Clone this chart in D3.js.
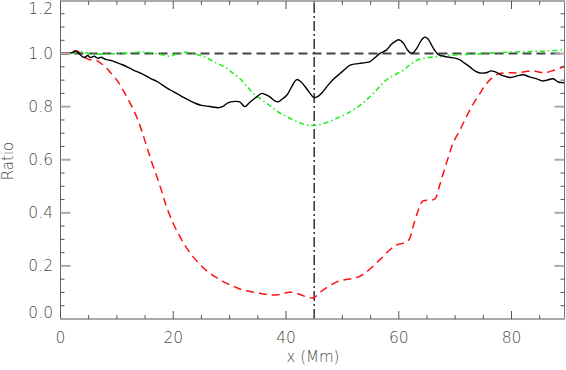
<!DOCTYPE html>
<html><head><meta charset="utf-8">
<script src="https://cdn.jsdelivr.net/npm/d3@7"></script>
<style>
html,body{margin:0;padding:0;background:#fff;}
svg{display:block;}
text{font-family:"DejaVu Sans",sans-serif;fill:#4a4a4a;}
</style></head>
<body>
<svg id="c" width="566" height="370"></svg>
<script>
// ---- data ----
const xTicks = [0, 20, 40, 60, 80];
const yTicks = [0.0, 0.2, 0.4, 0.6, 0.8, 1.0, 1.2];
const xLabel = "x (Mm)";
const yLabel = "Ratio";
const markerX = 45;
const referenceY = 1.0;

const blackX = [0,1,2,2.8,3.3,3.8,4.3,4.8,5.3,6,6.6,7.2,8,8.8,10,11,12,13,14,15,16,17,18,19,20,21,22,23,24,25,26,27,28,29,29.5,30.2,31,31.8,32.7,33.5,34.8,35.7,36.3,37.2,38,38.6,39.3,40.2,41,41.9,42.6,43.4,44.2,44.9,45.6,46.5,47.5,48.5,49.6,50.5,51.3,52.3,53.1,54.1,54.9,55.8,56.6,57.8,58.7,59.5,60,60.8,61.5,62,62.5,63.2,64,64.6,65.2,66,67,68,69,70,70.8,71.6,72.6,73.5,74.4,75.5,76.4,77.2,78.5,79.7,81,82.1,83.2,84.5,85.5,86.3,87.4,88.3,89.4];
const blackY = [1.0,1.0,1.003,1.01,1.0,0.99,0.985,0.993,0.985,0.99,0.982,0.986,0.978,0.975,0.966,0.958,0.948,0.937,0.928,0.918,0.906,0.896,0.883,0.869,0.857,0.845,0.833,0.822,0.812,0.805,0.802,0.799,0.796,0.803,0.812,0.818,0.82,0.818,0.8,0.815,0.837,0.85,0.846,0.836,0.822,0.818,0.828,0.845,0.875,0.902,0.895,0.875,0.852,0.835,0.838,0.855,0.882,0.905,0.925,0.942,0.956,0.961,0.963,0.966,0.97,0.985,1.0,1.013,1.035,1.048,1.052,1.04,1.015,1.004,1.002,1.02,1.05,1.062,1.055,1.025,0.997,0.99,0.986,0.983,0.977,0.965,0.95,0.935,0.927,0.928,0.935,0.93,0.917,0.91,0.916,0.92,0.912,0.905,0.897,0.9,0.905,0.893,0.89];

const redX = [0,1.5,2.5,3.3,4,5,6.3,7,8,8.8,10,11.1,12.3,13.5,14.4,15.3,16.2,17.1,18,18.8,20,21.2,22.3,23.5,25,26.5,28,29.5,31,32.4,34,35.4,36.5,37.7,39,40.3,41.3,42.5,43.9,44.9,46,47.5,49,50.5,51.9,53,53.7,55.5,57.2,58.5,59.6,60.7,61.7,62.7,63.7,64.3,65.5,66.4,67.2,67.9,68.8,69.6,70.8,72,73.2,74.4,75.3,76.2,77.1,77.9,79.5,80.9,82.4,83.8,85,86.2,87.5,89.4];
const redY = [1.0,1.003,1.01,1.005,0.99,0.978,0.975,0.966,0.95,0.93,0.9,0.862,0.815,0.762,0.71,0.649,0.59,0.536,0.478,0.423,0.36,0.31,0.27,0.235,0.2,0.172,0.152,0.134,0.12,0.109,0.102,0.097,0.093,0.09,0.093,0.1,0.1,0.092,0.082,0.08,0.1,0.122,0.14,0.148,0.153,0.16,0.168,0.2,0.235,0.262,0.279,0.285,0.295,0.36,0.423,0.445,0.448,0.452,0.5,0.549,0.61,0.661,0.71,0.762,0.81,0.85,0.88,0.902,0.918,0.925,0.928,0.927,0.932,0.935,0.93,0.929,0.937,0.952];

const greenX = [0,2,3.5,5,8,10,12,14.7,16,17.5,19.4,20.5,21.8,23.5,24.7,25.9,27.1,28.3,29.5,30.6,31.8,33,34.2,35.4,36.6,37.6,38.6,40,41.3,42.5,43.7,44.9,46,47.5,49,50.5,51.9,53.2,54.3,55.5,56.5,57.5,58.4,59.5,60.8,62,63.2,64.5,66.1,67.5,69.1,72,75,78,80.9,84,86.5,89.4];
const greenY = [1.0,1.0,1.008,1.0,0.998,1.0,1.002,1.006,1.003,0.998,0.99,0.998,1.004,1.002,0.993,0.985,0.97,0.958,0.944,0.926,0.906,0.878,0.85,0.83,0.812,0.796,0.78,0.764,0.75,0.739,0.731,0.729,0.733,0.742,0.756,0.77,0.787,0.806,0.826,0.85,0.873,0.895,0.91,0.922,0.937,0.958,0.975,0.982,0.987,0.99,0.994,0.997,1.0,1.004,1.006,1.008,1.01,1.014];

// ---- layout ----
const svg = d3.select("#c");
const L = 60.5, R = 564.5, T = 0.5, B = 319;
const x = d3.scaleLinear().domain([0, 89.4]).range([L, R]);
const y = d3.scaleLinear().domain([0, 1.2]).range([B, T]);

const toPts = (xs, ys) => xs.map((v, i) => [v, ys[i]]);
const line = d3.line().x(d => x(d[0])).y(d => y(d[1])).curve(d3.curveCatmullRom.alpha(0.5));

const plot = svg.append("g");
plot.append("clipPath").attr("id","clip").append("rect")
  .attr("x", L).attr("y", 0).attr("width", R - L).attr("height", B);
const g = plot.append("g").attr("clip-path","url(#clip)");

// reference lines
g.append("line").attr("x1", x(0)).attr("x2", x(89.4)).attr("y1", y(referenceY)).attr("y2", y(referenceY))
  .attr("stroke","#444").attr("stroke-width",2).attr("stroke-dasharray","9,5");
g.append("line").attr("x1", x(markerX)).attr("x2", x(markerX)).attr("y1", y(0)).attr("y2", y(1.2))
  .attr("stroke","#333").attr("stroke-width",1.5).attr("stroke-dasharray","10,3,2,3");

// series
g.append("path").attr("d", line(toPts(greenX, greenY))).attr("fill","none")
  .attr("stroke","#22ee22").attr("stroke-width",1.6).attr("stroke-dasharray","5,3,1.5,3");
g.append("path").attr("d", line(toPts(redX, redY))).attr("fill","none")
  .attr("stroke","#ff1010").attr("stroke-width",1.5).attr("stroke-dasharray","8,5");
g.append("path").attr("d", line(toPts(blackX, blackY))).attr("fill","none")
  .attr("stroke","#000").attr("stroke-width",1.4);

// ---- axes ----
const ax = svg.append("g");
ax.append("line").attr("x1",L).attr("x2",R).attr("y1",B).attr("y2",B).attr("stroke","#aaa").attr("stroke-width",2);
ax.append("line").attr("x1",L).attr("x2",R).attr("y1",1).attr("y2",1).attr("stroke","#aaa").attr("stroke-width",2);
ax.append("line").attr("x1",L).attr("x2",L).attr("y1",T).attr("y2",B).attr("stroke","#666").attr("stroke-width",1);
ax.append("line").attr("x1",R).attr("x2",R).attr("y1",T).attr("y2",B).attr("stroke","#777").attr("stroke-width",1);

const xMinor = d3.range(0, 89.4, 5);
xMinor.forEach(v => {
  const major = xTicks.includes(v);
  const len = major ? 8 : 4;
  ax.append("line").attr("x1",x(v)).attr("x2",x(v)).attr("y1",B).attr("y2",B-len).attr("stroke","#555").attr("stroke-width",1);
  ax.append("line").attr("x1",x(v)).attr("x2",x(v)).attr("y1",1).attr("y2",1+len).attr("stroke","#555").attr("stroke-width",1);
});
const yMinor = d3.range(0, 1.2001, 0.05);
yMinor.forEach(v => {
  const major = Math.abs(v*5 - Math.round(v*5)) < 1e-6;
  if (major) {
    ax.append("line").attr("x1",L).attr("x2",L+10).attr("y1",y(v)).attr("y2",y(v)).attr("stroke","#aaa").attr("stroke-width",2);
    ax.append("line").attr("x1",R).attr("x2",R-10).attr("y1",y(v)).attr("y2",y(v)).attr("stroke","#aaa").attr("stroke-width",2);
  } else {
    ax.append("line").attr("x1",L).attr("x2",L+4).attr("y1",y(v)).attr("y2",y(v)).attr("stroke","#555").attr("stroke-width",1);
    ax.append("line").attr("x1",R).attr("x2",R-4).attr("y1",y(v)).attr("y2",y(v)).attr("stroke","#555").attr("stroke-width",1);
  }
});

ax.selectAll("text.xt").data(xTicks).join("text").attr("class","xt")
  .attr("x", d => x(d)).attr("y", 343).attr("text-anchor","middle")
  .attr("font-size", 15.5).attr("font-weight", 200).text(d => d);
ax.selectAll("text.yt").data(yTicks).join("text").attr("class","yt")
  .attr("x", 53).attr("y", d => Math.min(Math.max(y(d), 8.5), 312.5) + 5.5).attr("text-anchor","end")
  .attr("font-size", 15.5).attr("font-weight", 200).text(d => d.toFixed(1));

ax.append("text").attr("x", 313).attr("y", 362).attr("text-anchor","middle")
  .attr("font-size", 15).attr("font-weight", 200).text(xLabel);
ax.append("text").attr("transform","translate(13,161) rotate(-90)").attr("text-anchor","middle")
  .attr("font-size", 15).attr("font-weight", 200).text(yLabel);
</script>
</body></html>
